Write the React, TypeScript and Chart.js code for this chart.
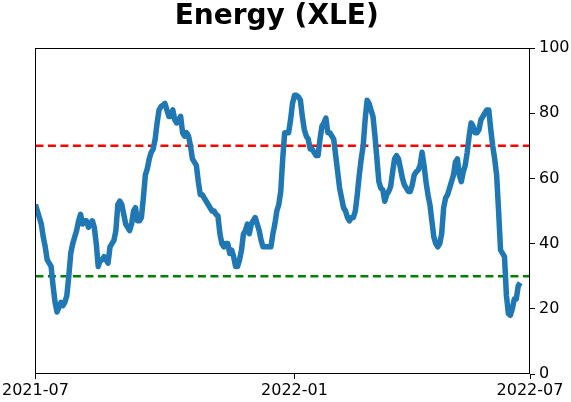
import React, { useEffect, useRef } from "react";
import { Chart, registerables } from "chart.js";

Chart.register(...registerables);

const TITLE = "Energy (XLE)";

// one value per trading day, starting 2021-07-01
const rsiValues: number[] = [
  52, 50, 48, 46, 42, 39, 35, 34, 33, 27,
  22, 19, 20.5, 22, 21, 22, 24, 30, 37, 40,
  42, 44, 47, 49, 46, 47, 47, 45, 46, 47,
  45, 40, 33, 35, 35, 36, 35, 34, 39, 40,
  41, 44, 52, 53, 52, 49, 46, 45, 44, 46,
  50, 51, 47, 47, 48, 54, 61, 63, 66, 68,
  69, 72, 77, 81, 82, 82.5, 83, 81, 79, 79,
  81, 78, 77, 78, 79, 74, 73, 74, 73, 70,
  66, 65, 64, 59, 55, 55, 54, 53, 52, 51,
  50, 50, 49, 48.5, 43, 40, 39, 40, 40, 37,
  38, 36, 33, 33, 35, 38, 43, 44, 46, 43,
  46, 47, 48, 46, 44, 41, 39, 39, 39, 39,
  39, 43, 46, 50, 52, 56, 66, 74, 74, 74,
  78, 83, 85.5, 85.5, 85, 84, 79, 75, 73, 72,
  69, 69, 68, 67, 67, 72, 76, 77, 78.5, 74,
  74, 73, 72, 67, 62, 57, 54, 51, 50, 48,
  47, 48, 48, 50, 55, 61, 66, 70, 78, 84,
  83, 81, 79, 73, 66, 59, 57, 56.5, 53, 55,
  56, 57.5, 62, 66, 67, 66, 63, 60, 58, 57,
  56, 56, 58, 61, 62, 62.5, 64, 68, 64, 59,
  55, 52, 47, 42, 40, 39, 40, 43, 51, 54,
  55, 57, 59, 61, 65, 66, 61, 59, 62, 64,
  68, 73, 77, 76, 74, 74, 75, 78, 79, 80,
  81, 81, 75, 70, 66, 61, 50, 38, 37, 36,
  24, 18.5, 18, 20, 23, 23, 27, 28,
];

const tickPositions: number[] = [0, 132, 252];
const tickLabels: string[] = ["2021-07", "2022-01", "2022-07"];
const yTicks: number[] = [0, 20, 40, 60, 80, 100];
const upperLevel = 70;
const lowerLevel = 30;
const xMax = 252;

const FONT = "'DejaVu Sans', sans-serif";

export default function App() {
  const ref = useRef<HTMLCanvasElement | null>(null);

  useEffect(() => {
    document.body.style.margin = "0";
    const canvas = ref.current;
    if (!canvas) return;

    const framePlugin = {
      id: "frame",
      afterDatasetsDraw(chart: any) {
        const { ctx, chartArea } = chart;
        ctx.save();
        ctx.strokeStyle = "#000";
        ctx.lineWidth = 1;
        ctx.strokeRect(
          Math.round(chartArea.left) + 0.5,
          Math.round(chartArea.top) + 0.5,
          Math.round(chartArea.right - chartArea.left) - 1,
          Math.round(chartArea.bottom - chartArea.top) - 1
        );
        ctx.restore();
      },
    };

    const titlePlugin = {
      id: "axesTitle",
      afterDraw(chart: any) {
        const { ctx, chartArea } = chart;
        ctx.save();
        ctx.fillStyle = "#000";
        ctx.font = `bold 28px ${FONT}`;
        ctx.textAlign = "center";
        ctx.textBaseline = "alphabetic";
        ctx.fillText(TITLE, (chartArea.left + chartArea.right) / 2 - 6, 24);
        ctx.restore();
      },
    };

    const chart = new Chart(canvas, {
      type: "line",
      data: {
        datasets: [
          {
            data: rsiValues.map((v, i) => ({ x: i, y: v })),
            borderColor: "#1f77b4",
            borderWidth: 5.5,
            pointRadius: 0,
            tension: 0,
            borderJoinStyle: "round",
            borderCapStyle: "butt",
            fill: false,
          },
          {
            data: [
              { x: 0, y: upperLevel },
              { x: xMax, y: upperLevel },
            ],
            borderColor: "#ff0000",
            borderWidth: 2.5,
            borderDash: [8, 4.5],
            pointRadius: 0,
            fill: false,
          },
          {
            data: [
              { x: 0, y: lowerLevel },
              { x: xMax, y: lowerLevel },
            ],
            borderColor: "#008000",
            borderWidth: 2.5,
            borderDash: [8, 4.5],
            pointRadius: 0,
            fill: false,
          },
        ],
      },
      options: {
        responsive: false,
        animation: false,
        devicePixelRatio: 1,
        layout: { padding: { left: 35, right: 0, top: 48, bottom: 0 } },
        plugins: {
          legend: { display: false },
          tooltip: { enabled: false },
          title: { display: false },
        },
        scales: {
          x: {
            type: "linear",
            min: 0,
            max: xMax,
            border: { display: false },
            grid: {
              display: true,
              drawOnChartArea: false,
              drawTicks: true,
              tickLength: 5,
              color: "#000",
              lineWidth: 1,
            },
            afterBuildTicks: (scale: any) => {
              scale.ticks = tickPositions.map((v) => ({ value: v }));
            },
            afterFit: (scale: any) => {
              scale.height = 28;
            },
            ticks: {
              autoSkip: false,
              maxRotation: 0,
              minRotation: 0,
              padding: 2,
              color: "#000",
              font: { family: FONT, size: 16 },
              callback: (value: any) => {
                const idx = tickPositions.indexOf(Number(value));
                return idx >= 0 ? tickLabels[idx] : "";
              },
            },
          },
          y: {
            type: "linear",
            position: "right",
            min: 0,
            max: 100,
            border: { display: false },
            grid: {
              display: true,
              drawOnChartArea: false,
              drawTicks: true,
              tickLength: 5,
              color: "#000",
              lineWidth: 1,
            },
            afterBuildTicks: (scale: any) => {
              scale.ticks = yTicks.map((v) => ({ value: v }));
            },
            afterFit: (scale: any) => {
              scale.width = 41;
            },
            ticks: {
              padding: 4,
              color: "#000",
              font: { family: FONT, size: 16 },
              callback: (value: any) => String(value),
            },
          },
        },
      },
      plugins: [framePlugin, titlePlugin],
    } as any);

    return () => chart.destroy();
  }, []);

  return (
    <div style={{ position: "relative", width: 571, height: 402 }}>
      <canvas ref={ref} width={571} height={402} style={{ display: "block" }} />
    </div>
  );
}
